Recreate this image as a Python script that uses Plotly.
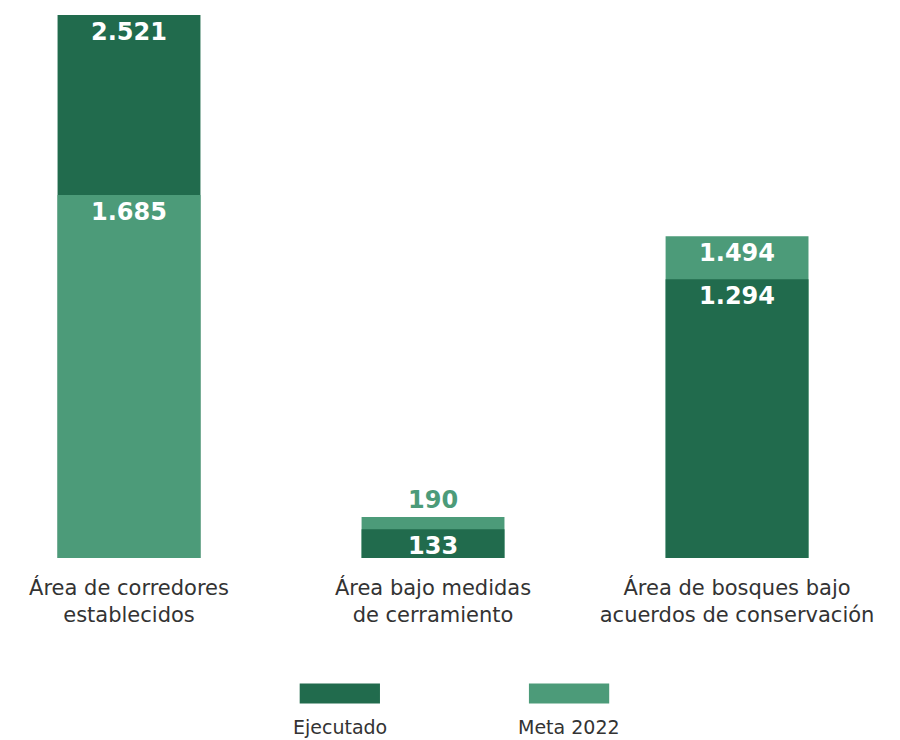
import plotly.graph_objects as go

# Datos
categorias = [
    "Área de corredores<br>establecidos",
    "Área bajo medidas<br>de cerramiento",
    "Área de bosques bajo<br>acuerdos de conservación",
]
ejecutado = [2521, 133, 1294]
meta_2022 = [1685, 190, 1494]
series = ["Ejecutado", "Meta 2022"]
colores = ["#216b4d", "#4c9b79"]

ALTO_PLOT = 543  # px del área de dibujo


def fmt(v):
    # separador de miles con punto
    return f"{v:,}".replace(",", ".")


# La barra mayor va detrás, la menor delante
atras_y, atras_c, frente_y, frente_c = [], [], [], []
for e, m in zip(ejecutado, meta_2022):
    if e >= m:
        atras_y.append(e); atras_c.append(colores[0])
        frente_y.append(m); frente_c.append(colores[1])
    else:
        atras_y.append(m); atras_c.append(colores[1])
        frente_y.append(e); frente_c.append(colores[0])

ymax = max(ejecutado + meta_2022)
# si la franja visible de la barra de atrás es muy fina, la etiqueta va afuera
pos_atras = [
    "outside" if (a - f) / ymax * ALTO_PLOT < 32 else "inside"
    for a, f in zip(atras_y, frente_y)
]

fig = go.Figure()
for ys, cs, pos in [(atras_y, atras_c, pos_atras),
                    (frente_y, frente_c, ["inside"] * len(frente_y))]:
    fig.add_trace(go.Bar(
        x=categorias,
        y=ys,
        marker_color=cs,
        marker_line_width=0,
        width=0.47,
        text=[fmt(v) for v in ys],
        textposition=pos,
        insidetextanchor="end",
        constraintext="none",
        cliponaxis=False,
        insidetextfont=dict(family="DejaVu Sans", size=24, color="white", weight="bold"),
        outsidetextfont=dict(family="DejaVu Sans", size=24, color=cs, weight="bold"),
        showlegend=False,
        hovertemplate="%{y}<extra></extra>",
    ))

# Leyenda dibujada a mano (rectángulo arriba, texto abajo)
leyenda_x = [0.372, 0.629]
for nombre, color, lx in zip(series, colores, leyenda_x):
    fig.add_shape(type="rect", xref="paper", yref="paper",
                  x0=lx - 0.045, x1=lx + 0.045, y0=-0.268, y1=-0.231,
                  fillcolor=color, line_width=0)
    fig.add_annotation(text=nombre, xref="paper", yref="paper",
                       x=lx, y=-0.311, showarrow=False, yanchor="middle",
                       font=dict(family="DejaVu Sans", size=19, color="#333333"))

fig.update_layout(
    barmode="overlay",
    width=892,
    height=732,
    margin=dict(l=0, r=0, t=7, b=182),
    paper_bgcolor="white",
    plot_bgcolor="white",
    font=dict(family="DejaVu Sans", color="#333333"),
    xaxis=dict(
        range=[-0.398, 2.536],
        showgrid=False,
        showline=False,
        zeroline=False,
        ticks="",
        ticklabelstandoff=15,
        tickfont=dict(family="DejaVu Sans", size=21, color="#333333"),
    ),
    yaxis=dict(
        range=[0, ymax],
        visible=False,
        showgrid=False,
        zeroline=False,
    ),
)

fig.write_html("out.html")
